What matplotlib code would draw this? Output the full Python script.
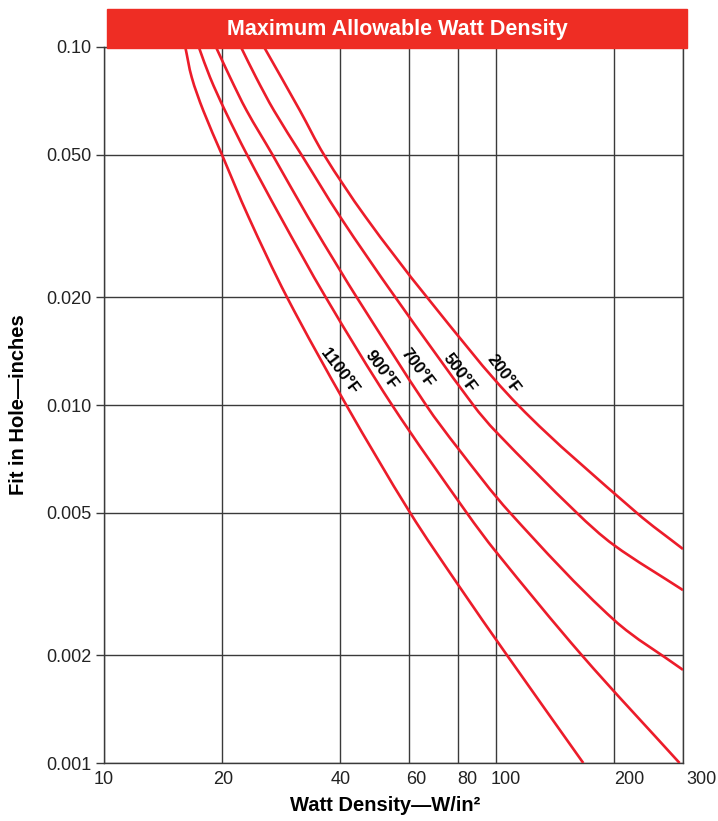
import numpy as np
import matplotlib.pyplot as plt
import matplotlib.transforms as mtransforms
from matplotlib.patches import Rectangle, PathPatch
from matplotlib.path import Path

plt.rcParams['font.family'] = ['Liberation Sans', 'DejaVu Sans']

# curves (x = watt density W/in2, y = fit in hole, inches)
c1100_x = [16.12, 16.74, 17.92, 20.0, 23.35, 29.3, 41.5, 60.4, 80.0, 106.7, 167.0]
c1100_y = [0.1, 0.0823, 0.0664, 0.05, 0.0336, 0.02, 0.01, 0.005, 0.00315, 0.002, 0.001]
c900_x = [17.45, 18.64, 20.36, 23.17, 28.17, 36.78, 54.3, 84.2, 100.0, 165.6, 294.0]
c900_y = [0.1, 0.0823, 0.0664, 0.05, 0.0336, 0.02, 0.01, 0.005, 0.00389, 0.002, 0.001]
c700_x = [19.3, 20.97, 23.12, 26.91, 33.09, 40.0, 44.12, 66.3, 80.0, 108.6, 200.0, 300.0]
c700_y = [0.1, 0.0823, 0.0664, 0.05, 0.0336, 0.0238, 0.02, 0.01, 0.00757, 0.005, 0.00251, 0.00182]
c500_x = [22.35, 24.42, 27.15, 31.9, 40.0, 55.35, 87.5, 100.0, 160.7, 200.0, 300.0]
c500_y = [0.1, 0.0823, 0.0664, 0.05, 0.0336, 0.02, 0.01, 0.00842, 0.005, 0.00406, 0.00304]
c200_x = [25.6, 31.62, 36.41, 46.41, 66.68, 113.8, 228.5, 300.0]
c200_y = [0.1, 0.0664, 0.05, 0.0336, 0.02, 0.01, 0.005, 0.00396]

labels = ['1100°F', '900°F', '700°F', '500°F', '200°F']
label_x = [39.8, 50.9, 62.8, 80.9, 104.3]
label_y = [0.01244, 0.0125, 0.0127, 0.0123, 0.0122]

xticks = [10, 20, 40, 60, 80, 100, 200, 300]
yticks = [0.001, 0.002, 0.005, 0.01, 0.02, 0.05, 0.1]
ytick_labels = ['0.001', '0.002', '0.005', '0.010', '0.020', '0.050', '0.10']
# the printed x labels drift right of their grid lines (pixels)
xlabel_shift = [0, 1, 1, 7, 9, 10, 15, 18]

red = '#ec1c2a'
grid_c = '#3a3a3a'


def smooth_curve(xs, ys):
    # bezier path through the read points, built in log space
    p = np.column_stack([np.log10(xs), np.log10(ys)])
    n = len(p)
    tang = []
    for i in range(n):
        d = p[min(i + 1, n - 1)] - p[max(i - 1, 0)]
        tang.append(d / np.hypot(*d))
    verts, codes = [p[0]], [Path.MOVETO]
    for i in range(n - 1):
        seg = np.hypot(*(p[i + 1] - p[i])) / 3
        verts += [p[i] + tang[i] * seg, p[i + 1] - tang[i + 1] * seg, p[i + 1]]
        codes += [Path.CURVE4] * 3
    return Path(10 ** np.array(verts), codes)


fig = plt.figure(figsize=(7.18, 8.21), dpi=100)
ax = fig.add_axes([104 / 718, 1 - 763 / 821, 579 / 718, 716 / 821])

ax.set_xscale('log')
ax.set_yscale('log')
ax.set_xlim(10, 300)
ax.set_ylim(0.001, 0.1)

curves = [(c1100_x, c1100_y), (c900_x, c900_y), (c700_x, c700_y),
          (c500_x, c500_y), (c200_x, c200_y)]
for cx, cy in curves:
    ax.add_patch(PathPatch(smooth_curve(cx, cy), fill=False, ec=red,
                           lw=1.9, capstyle='butt', zorder=3))

ax.set_xticks(xticks)
ax.set_xticklabels([str(t) for t in xticks])
ax.set_yticks(yticks)
ax.set_yticklabels(ytick_labels)
ax.minorticks_off()
ax.tick_params(axis='x', length=0, pad=6, labelsize=13, labelcolor='#222222')
ax.tick_params(axis='y', length=6, width=1, color=grid_c, pad=3,
               labelsize=13, labelcolor='#222222')
for lab, dx in zip(ax.get_xticklabels(), xlabel_shift):
    lab.set_transform(lab.get_transform() +
                      mtransforms.ScaledTranslation(dx / 100, 0, fig.dpi_scale_trans))
ax.grid(True, which='major', color=grid_c, lw=1.0, zorder=1)
for s in ax.spines.values():
    s.set_color(grid_c)
    s.set_linewidth(1.0)

for t, lx, ly in zip(labels, label_x, label_y):
    ax.text(lx, ly, t, rotation=-53, ha='center', va='center',
            fontsize=12, fontweight='bold', color='black', zorder=4,
            rotation_mode='anchor')

ax.set_xlabel('Watt Density—W/in²', fontsize=14.5, fontweight='bold', va='center')
ax.xaxis.set_label_coords(0.485, -0.0587)
ax.set_ylabel('Fit in Hole—inches', fontsize=14.5, fontweight='bold', va='center')
ax.yaxis.set_label_coords(-0.1485, 0.5)

# title banner
fig.patches.append(Rectangle((107 / 718, 1 - 48.5 / 821), 580 / 718, 39.5 / 821,
                             transform=fig.transFigure, color='#ee2d24',
                             zorder=10))
fig.text(397 / 718, 1 - 30 / 821, 'Maximum Allowable Watt Density',
         ha='center', va='center', color='white', fontsize=15.5,
         fontweight='bold', family=['Liberation Sans Narrow', 'Liberation Sans'],
         zorder=11)

fig.savefig('out.png', dpi=100)
